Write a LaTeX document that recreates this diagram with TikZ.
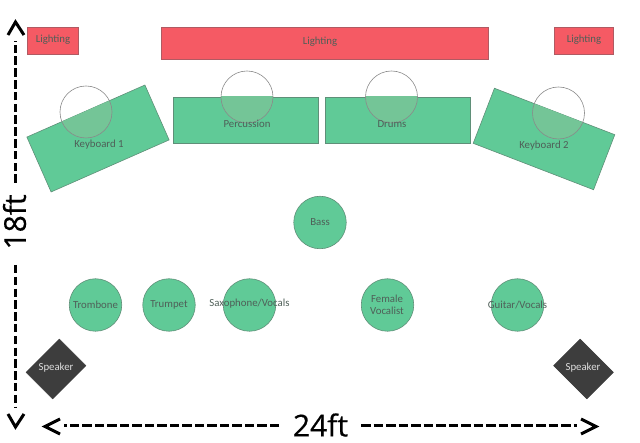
\documentclass[tikz,border=0pt]{standalone}
\usepackage{fontspec}
\setmainfont{Carlito}
\newfontfamily\bigfont[FakeBold=0.5]{Open Sans}
\tikzset{
  x=1pt,y=-1pt,
  lightbar/.style={draw=lightedge,fill=lightfill,line width=0.6pt,minimum height=27pt,inner sep=0pt,outer sep=0pt},
  stagebox/.style={draw=greenedge,fill=greenfill,line width=0.6pt,inner sep=0pt,outer sep=0pt},
  player/.style={circle,draw=greenedge,fill=greenfill,line width=0.6pt,minimum size=52.5pt,inner sep=0pt,outer sep=0pt},
  spotfill/.style={circle,fill=overlapfill,minimum size=52pt,inner sep=0pt},
  spot/.style={circle,draw=spotedge,line width=0.6pt,minimum size=52pt,inner sep=0pt},
  speakerbox/.style={draw=speakerfill,fill=speakerfill,minimum width=47pt,minimum height=37.5pt,inner sep=0pt,outer sep=0pt},
  lbl/.style={text=labelc,font=\fontsize{10.8}{12.5}\selectfont,align=center,inner sep=0pt},
  wlbl/.style={text=speakertext,font=\fontsize{10.8}{12.5}\selectfont,inner sep=0pt},
  biglbl/.style={text=black,font=\bigfont\fontsize{30}{30}\selectfont,inner sep=0pt},
  dimv/.style={draw=black,line width=3pt,dash pattern=on 8.5pt off 3.3pt},
  dimh/.style={draw=black,line width=3pt,dash pattern=on 9.5pt off 3pt},
  chevron/.style={draw=black,line width=3pt,miter limit=10},
}
\definecolor{lightedge}{HTML}{B05A62}
\definecolor{lightfill}{HTML}{F55A64}
\definecolor{greenedge}{HTML}{5F8F78}
\definecolor{greenfill}{HTML}{60CA97}
\definecolor{overlapfill}{HTML}{74C597}
\definecolor{spotedge}{HTML}{8A8A8A}
\definecolor{speakerfill}{HTML}{3D3D3D}
\definecolor{speakertext}{HTML}{DDDDDD}
\definecolor{labelc}{HTML}{4F5F58}
\begin{document}
\begin{tikzpicture}
\useasboundingbox (0,0) rectangle (640,443);
% lighting
\node[lightbar,minimum width=51pt] (ll) at (52.5,40.5) {};
\node[lightbar,minimum width=327pt,minimum height=32pt] (lm) at (324.5,43) {};
\node[lightbar,minimum width=59pt] (lr) at (583.5,40.5) {};
\node[lbl] (lltext) at (53,39.5) {Lighting};
\node[lbl] (lmtext) at (320,41.5) {Lighting};
\node[lbl] (lrtext) at (584,39.5) {Lighting};
% risers
\node[stagebox,minimum width=129pt,minimum height=60pt,rotate=23.8] (kb1) at (98,138.5) {};
\node[stagebox,minimum width=145pt,minimum height=46pt] (perc) at (245.5,120) {};
\node[stagebox,minimum width=145pt,minimum height=46pt] (drums) at (397.5,120) {};
\node[stagebox,minimum width=129pt,minimum height=59pt,rotate=-21.1] (kb2) at (544,139) {};
% overlaps of spots with the risers
\begin{scope}
\clip (kb1.south west) -- (kb1.south east) -- (kb1.north east) -- (kb1.north west) -- cycle;
\node[spotfill] at (86,112) {};
\end{scope}
\begin{scope}
\clip (perc.south west) rectangle (perc.north east);
\node[spotfill] at (247,97) {};
\end{scope}
\begin{scope}
\clip (drums.south west) rectangle (drums.north east);
\node[spotfill] at (391.5,97) {};
\end{scope}
\begin{scope}
\clip (kb2.south west) -- (kb2.south east) -- (kb2.north east) -- (kb2.north west) -- cycle;
\node[spotfill] at (558.5,113) {};
\end{scope}
\node[spot] (s1) at (86,112) {};
\node[spot] (s2) at (247,97) {};
\node[spot] (s3) at (391.5,97) {};
\node[spot] (s4) at (558.5,113) {};
\node[lbl] (kb1text) at (99,144.5) {Keyboard 1};
\node[lbl] (perctext) at (247,123.5) {Percussion};
\node[lbl] (drumstext) at (392,124) {Drums};
\node[lbl] (kb2text) at (544,145.5) {Keyboard 2};
% players
\node[player] (bass) at (320,222.5) {};
\node[lbl] (basstext) at (320,222) {Bass};
\node[player] (tb) at (95.5,305) {};
\node[lbl] (tbtext) at (95.5,305) {Trombone};
\node[player] (tp) at (169,305) {};
\node[lbl] (tptext) at (169,304.5) {Trumpet};
\node[player] (sax) at (249.5,305) {};
\node[lbl] (saxtext) at (249.5,304) {Saxophone/Vocals};
\node[player] (fv) at (387.5,305) {};
\node[lbl] (fvtext) at (387,305) {Female\\Vocalist};
\node[player] (gt) at (517.5,305) {};
\node[lbl] (gttext) at (517.5,305) {Guitar/Vocals};
% speakers
\node[speakerbox,rotate=45] (spl) at (56,369) {};
\node[wlbl] (spltext) at (56,368) {Speaker};
\node[speakerbox,rotate=-45] (spr) at (583.5,369) {};
\node[wlbl] (sprtext) at (583,368) {Speaker};
% dimensions
\node[biglbl,rotate=90] (h18) at (14.5,222) {18ft};
\node[biglbl] (w24) at (320.5,425) {24ft};
\coordinate (vt) at (15.5,41);
\coordinate (vb) at (15.5,183);
\coordinate (vt2) at (15.5,265);
\coordinate (vb2) at (15.5,407);
\coordinate (hl) at (64,426);
\coordinate (hr) at (279,426);
\coordinate (hl2) at (361,426);
\coordinate (hr2) at (577,426);
\draw[dimv] (vb) -- (vt);
\draw[dimv] (vt2) -- (vb2);
\draw[dimh] (hr) -- (hl);
\draw[dimh] (hl2) -- (hr2);
\coordinate (a1) at (8,35); \coordinate (a2) at (15.5,22); \coordinate (a3) at (24,35);
\coordinate (b1) at (8,414); \coordinate (b2) at (15.5,427); \coordinate (b3) at (24,414);
\coordinate (c1) at (60,419); \coordinate (c2) at (45,426.5); \coordinate (c3) at (60,434);
\coordinate (d1) at (581,419); \coordinate (d2) at (596,426.5); \coordinate (d3) at (581,434);
\draw[chevron] (a1) -- (a2) -- (a3);
\draw[chevron] (b1) -- (b2) -- (b3);
\draw[chevron] (c1) -- (c2) -- (c3);
\draw[chevron] (d1) -- (d2) -- (d3);
\end{tikzpicture}
\end{document}
